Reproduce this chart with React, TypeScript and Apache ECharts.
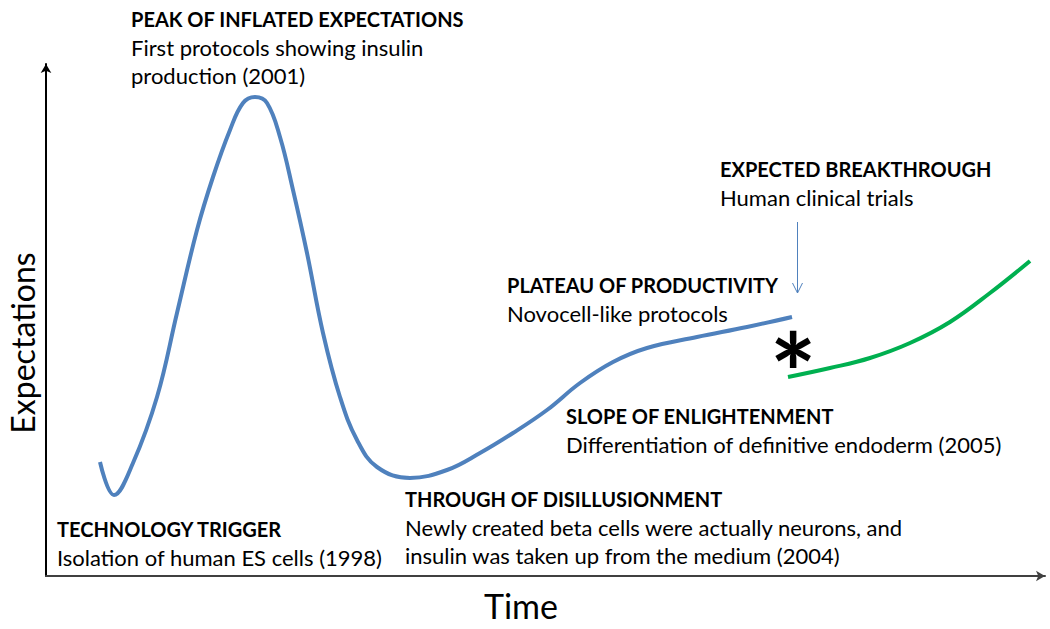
import React, { useEffect, useRef } from "react";
import * as echarts from "echarts";

// Hype-cycle curve (arbitrary time units, arbitrary expectation units)
const hypeCurve: [number, number][] = [
  [54, 114], [68, 81], [87, 113], [111, 179], [131, 263], [151, 346], [167, 399],
  [184, 446], [197, 473], [209, 479], [221, 473], [234, 439], [247, 386], [261, 323],
  [277, 243], [294, 179], [311, 136], [331, 109], [364, 98], [401, 106], [434, 123],
  [467, 143], [501, 166], [534, 193], [567, 214], [601, 228], [651, 239], [701, 249],
  [746, 259],
];

// Expected breakthrough curve
const breakthroughCurve: [number, number][] = [
  [742, 199], [784, 208], [824, 218], [864, 233], [904, 254], [944, 283], [984, 315],
];

const phaseTitles = [
  "PEAK OF INFLATED EXPECTATIONS",
  "EXPECTED BREAKTHROUGH",
  "PLATEAU OF PRODUCTIVITY",
  "SLOPE OF ENLIGHTENMENT",
  "THROUGH OF DISILLUSIONMENT",
  "TECHNOLOGY TRIGGER",
];
const phaseNotes: string[][] = [
  ["First protocols showing insulin", "production (2001)"],
  ["Human clinical trials"],
  ["Novocell-like protocols"],
  ["Differentiation of definitive endoderm (2005)"],
  ["Newly created beta cells were actually neurons, and", "insulin was taken up from the medium (2004)"],
  ["Isolation of human ES cells (1998)"],
];
const xAxisName = "Time";
const yAxisName = "Expectations";

// layout of annotation blocks (left, center-y of first line)
const blockPos: [number, number][] = [
  [131, 19],
  [720, 169],
  [507, 285],
  [566, 416],
  [405, 499],
  [57, 529],
];

const FONT = "Lato, 'Noto Sans', sans-serif";
const BLUE = "#4f81bd";
const GREEN = "#00b050";

export default function App() {
  const ref = useRef<HTMLDivElement>(null);
  useEffect(() => {
    if (!ref.current) return;
    const chart = echarts.init(ref.current, undefined, { renderer: "svg" });
    const LINE_H = 28;
    const texts: any[] = [];
    phaseTitles.forEach((t, i) => {
      const [x, y] = blockPos[i];
      texts.push({
        type: "text",
        x: x,
        y: y,
        style: { text: t, font: `bold 20px ${FONT}`, fill: "#000", verticalAlign: "middle" },
      });
      phaseNotes[i].forEach((n, j) => {
        texts.push({
          type: "text",
          x: x,
          y: y + LINE_H * (j + 1),
          style: { text: n, font: `22px ${FONT}`, fill: "#000", verticalAlign: "middle", lineHeight: 24 },
        });
      });
    });
    // axis names
    texts.push({
      type: "text",
      x: 521,
      y: 605,
      style: { text: xAxisName, font: `34px ${FONT}`, fill: "#000", align: "center", verticalAlign: "middle" },
    });
    texts.push({
      type: "text",
      x: 22,
      y: 343,
      rotation: Math.PI / 2,
      style: { text: yAxisName, font: `32px ${FONT}`, fill: "#000", align: "center", verticalAlign: "middle" },
    });
    // asterisk
    texts.push({
      type: "text",
      x: 793,
      y: 371,
      style: {
        text: "*",
        font: `bold 110px ${FONT}`,
        fill: "#000",
        align: "center",
        verticalAlign: "middle",
        lineHeight: 50,
      },
    });
    // small pointer arrow
    texts.push({
      type: "line",
      shape: { x1: 797.5, y1: 222, x2: 797.5, y2: 293 },
      style: { stroke: BLUE, lineWidth: 1 },
    });
    texts.push({
      type: "polyline",
      shape: { points: [[792.5, 283], [797.5, 293], [802.5, 283]] },
      style: { stroke: BLUE, lineWidth: 1, fill: "none" },
    });

    chart.setOption({
      animation: false,
      grid: { left: 46, right: 5, top: 64, bottom: 53, containLabel: false, outerBoundsMode: "none" },
      xAxis: {
        type: "value",
        min: 0,
        max: 999,
        axisLine: {
          show: true,
          symbol: ["none", "arrow"],
          symbolSize: [8, 9],
          lineStyle: { color: "#404040", width: 2 },
        },
        axisTick: { show: false },
        axisLabel: { show: false },
        splitLine: { show: false },
      },
      yAxis: {
        type: "value",
        min: 0,
        max: 512,
        axisLine: {
          show: true,
          symbol: ["none", "arrow"],
          symbolSize: [8, 9],
          lineStyle: { color: "#000", width: 2 },
        },
        axisTick: { show: false },
        axisLabel: { show: false },
        splitLine: { show: false },
      },
      series: [
        {
          type: "line",
          data: hypeCurve,
          smooth: 0.4,
          showSymbol: false,
          lineStyle: { color: BLUE, width: 4 },
        },
        {
          type: "line",
          data: breakthroughCurve,
          smooth: 0.4,
          showSymbol: false,
          lineStyle: { color: GREEN, width: 4 },
        },
      ],
      graphic: texts,
    });
    return () => chart.dispose();
  }, []);
  return <div ref={ref} style={{ width: 1050, height: 629, position: "absolute", left: 0, top: 0 }} />;
}
